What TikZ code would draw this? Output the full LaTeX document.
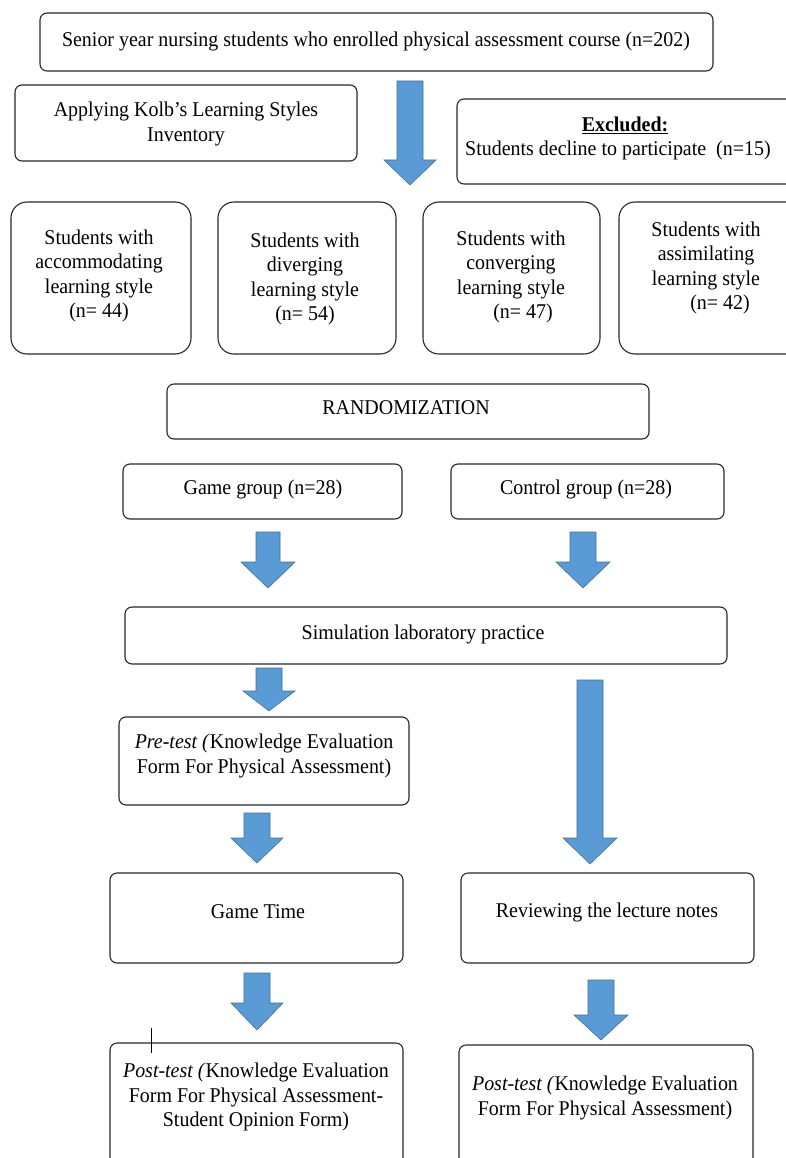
\documentclass[tikz,border=0pt]{standalone}
\usepackage{fontspec}
\setmainfont{Liberation Serif}[FakeStretch=0.95]
\definecolor{arrfill}{RGB}{91,155,213}
\definecolor{arrline}{RGB}{65,113,156}
\definecolor{boxline}{RGB}{40,40,40}
\tikzset{
  boxst/.style={draw=boxline, line width=1.1pt, inner sep=0pt, outer sep=0pt, fill=none},
  txt/.style={align=center, inner sep=0pt},
  arrowst/.style={fill=arrfill, draw=arrline, line width=0.6pt, line join=miter}
}
\newcommand{\bx}[6][7pt]{%
  \node[boxst, rounded corners=#1, minimum width={(#5-#3)*1pt}, minimum height={(#6-#4)*1pt}] (#2) at ({(#3+#5)/2},{(#4+#6)/2}) {};}
\newcommand{\barr}[6]{% xc ytop yheadstart ytip halfshaft halfhead
  \filldraw[arrowst] ({#1-#5},#2) -- ({#1+#5},#2) -- ({#1+#5},#3) -- ({#1+#6},#3) -- (#1,#4) -- ({#1-#6},#3) -- ({#1-#5},#3) -- cycle;}
\begin{document}
\begin{tikzpicture}[x=1pt,y=-1pt,font=\fontsize{21}{24.5}\selectfont]
\useasboundingbox[fill=white] (0,0) rectangle (785,1158);

% boxes
\bx{top}{40}{13}{713}{71}
\bx{kolb}{15}{85}{357}{161}
\bx{excl}{457}{99}{830}{184}
\bx[16pt]{bA}{11}{202}{191}{354}
\bx[16pt]{bB}{218}{202}{396}{354}
\bx[16pt]{bC}{423}{202}{600}{354}
\bx[16pt]{bD}{619}{202}{830}{354}
\bx{rand}{167}{384}{649}{439}
\bx{game}{123}{464}{402}{519}
\bx{ctrl}{451}{464}{724}{519}
\bx{sim}{125}{607}{727}{664}
\bx{pre}{119}{717}{409}{805}
\bx{gtime}{110}{873}{403}{963}
\bx{review}{461}{873}{754}{963}
\bx{postL}{110}{1043}{403}{1185}
\bx{postR}{459}{1045}{753}{1185}

% texts
\node[txt] (ttop) at (376,41) {Senior year nursing students who enrolled physical assessment course (n=202)};
\node[txt] (tkolb) at (186,124) {Applying Kolb’s Learning Styles\\Inventory};
\node[txt] (texcl) at (625,125) {\textbf{\underline{Excluded:}}};
\node[txt, anchor=west] (texcl2) at (465,150) {Students decline to participate \ (n=15)};
\node[txt] (tA) at (99,276) {Students with\\accommodating\\learning style\\(n= 44)};
\node[txt] (tB) at (305,279) {Students with\\diverging\\learning style\\(n= 54)};
\node[txt] (tC) at (511,277) {Students with\\converging\\learning style\\\hspace*{24pt}(n= 47)};
\node[txt] (tD) at (706,268) {Students with\\assimilating\\learning style\\\hspace*{28pt}(n= 42)};
\node[txt] (trand) at (406,408) {RANDOMIZATION};
\node[txt] (tgame) at (263,489) {Game group (n=28)};
\node[txt] (tctrl) at (586,489) {Control group (n=28)};
\node[txt] (tsim) at (423,634) {Simulation laboratory practice};
\node[txt] (tpre) at (264,756) {\textit{Pre-test (}Knowledge Evaluation\\Form For Physical Assessment)};
\node[txt] (tgtime) at (258,912) {Game Time};
\node[txt] (treview) at (607,912) {Reviewing the lecture notes};
\node[txt] (tpostL) at (256,1097) {\textit{Post-test (}Knowledge Evaluation\\Form For Physical Assessment-\\Student Opinion Form)};
\node[txt] (tpostR) at (605,1098) {\textit{Post-test (}Knowledge Evaluation\\Form For Physical Assessment)};

% block arrows
\barr{410}{81}{160}{185}{13}{26}
\barr{268}{532}{562}{588}{12}{27}
\barr{583}{532}{562}{588}{13}{27}
\barr{269}{668}{691}{711}{13}{26}
\barr{590}{680}{838}{864}{13}{27}
\barr{257}{813}{838}{863}{13}{26}
\barr{257}{973}{1003}{1030}{13}{26}
\barr{601}{980}{1015}{1040}{13}{27}

% cursor mark
\coordinate (cur1) at (151,1028);
\coordinate (cur2) at (151,1053);
\draw[line width=0.8pt] (cur1) -- (cur2);
\end{tikzpicture}
\end{document}
